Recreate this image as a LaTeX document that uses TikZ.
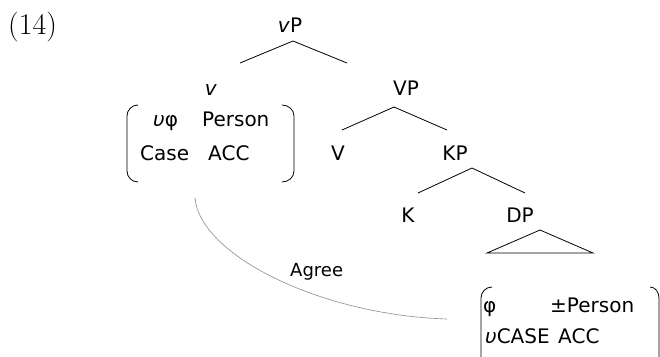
\documentclass[tikz,border=0pt]{standalone}
\usepackage{fontspec}
\setmainfont{DejaVu Sans}
\newfontfamily\numfont{Latin Modern Roman}
\begin{document}
\begin{tikzpicture}[x=1pt,y=-1pt,
  lbl/.style={inner sep=0pt,anchor=base,font=\fontsize{20}{24}\selectfont},
  lblw/.style={inner sep=0pt,anchor=base west,font=\fontsize{20}{24}\selectfont},
  edge/.style={line width=0.8pt,black},
  brk/.style={line width=0.8pt,black},
  agree/.style={line width=0.7pt,gray!85,dash pattern=on 0.6pt off 0.3pt}]
\useasboundingbox (0,0) rectangle (660,356);
% example number
\node[inner sep=0pt,anchor=base west,font=\numfont\fontsize{30}{34}\selectfont] (num) at (8,34) {(14)};
% tree labels
\node[lbl] (vP) at (290,32) {\textit{v}P};
\node[lbl] (v) at (211,95) {\textit{v}};
\node[lbl] (VP) at (406,95) {VP};
\node[lbl] (V) at (338,160) {V};
\node[lbl] (KP) at (455,160) {KP};
\node[lbl] (K) at (408,222) {K};
\node[lbl] (DP) at (520,222) {DP};
% edges
\coordinate (vPa) at (293,41);
\coordinate (vPl) at (240,63);
\coordinate (vPr) at (347,63);
\coordinate (VPa) at (394,107);
\coordinate (VPl) at (342,130);
\coordinate (VPr) at (447,130);
\coordinate (KPa) at (472,168);
\coordinate (KPl) at (418,193);
\coordinate (KPr) at (525,193);
\draw[edge] (vPl) -- (vPa) -- (vPr);
\draw[edge] (VPl) -- (VPa) -- (VPr);
\draw[edge] (KPl) -- (KPa) -- (KPr);
% triangle
\coordinate (Ta) at (540,230);
\coordinate (Tl) at (487,253);
\coordinate (Tr) at (593,253);
\draw[edge] (Tl) -- (Ta) -- (Tr) -- cycle;
% feature bundle of v
\node[lblw] (f1a) at (153,126) {\textit{υ}φ};
\node[lblw] (f1b) at (202,126) {Person};
\node[lblw] (f1c) at (140,160) {Case};
\node[lblw] (f1d) at (208,160) {ACC};
\draw[brk] (138,105) to[out=180,in=90] (127,116) -- (127,171) to[out=-90,in=180] (138,182);
\draw[brk] (282,105) to[out=0,in=90] (294,116) -- (294,171) to[out=-90,in=0] (282,182);
% feature bundle of DP
\node[lblw] (f2a) at (483,312) {φ};
\node[lblw] (f2b) at (550,312) {±Person};
\node[lblw] (f2c) at (485,343) {\textit{υ}CASE};
\node[lblw] (f2d) at (558,343) {ACC};
\draw[brk] (492,287) to[out=180,in=90] (481,298) -- (481,360);
\draw[brk] (650,287) to[out=0,in=90] (659,298) -- (659,360);
% Agree
\coordinate (ag1) at (195,198);
\coordinate (ag2) at (447,319);
\draw[agree] (ag1) .. controls (200,255) and (320,315) .. (ag2);
\node[inner sep=0pt,anchor=base west,font=\fontsize{18}{22}\selectfont] (agl) at (290,276) {Agree};
\end{tikzpicture}
\end{document}
